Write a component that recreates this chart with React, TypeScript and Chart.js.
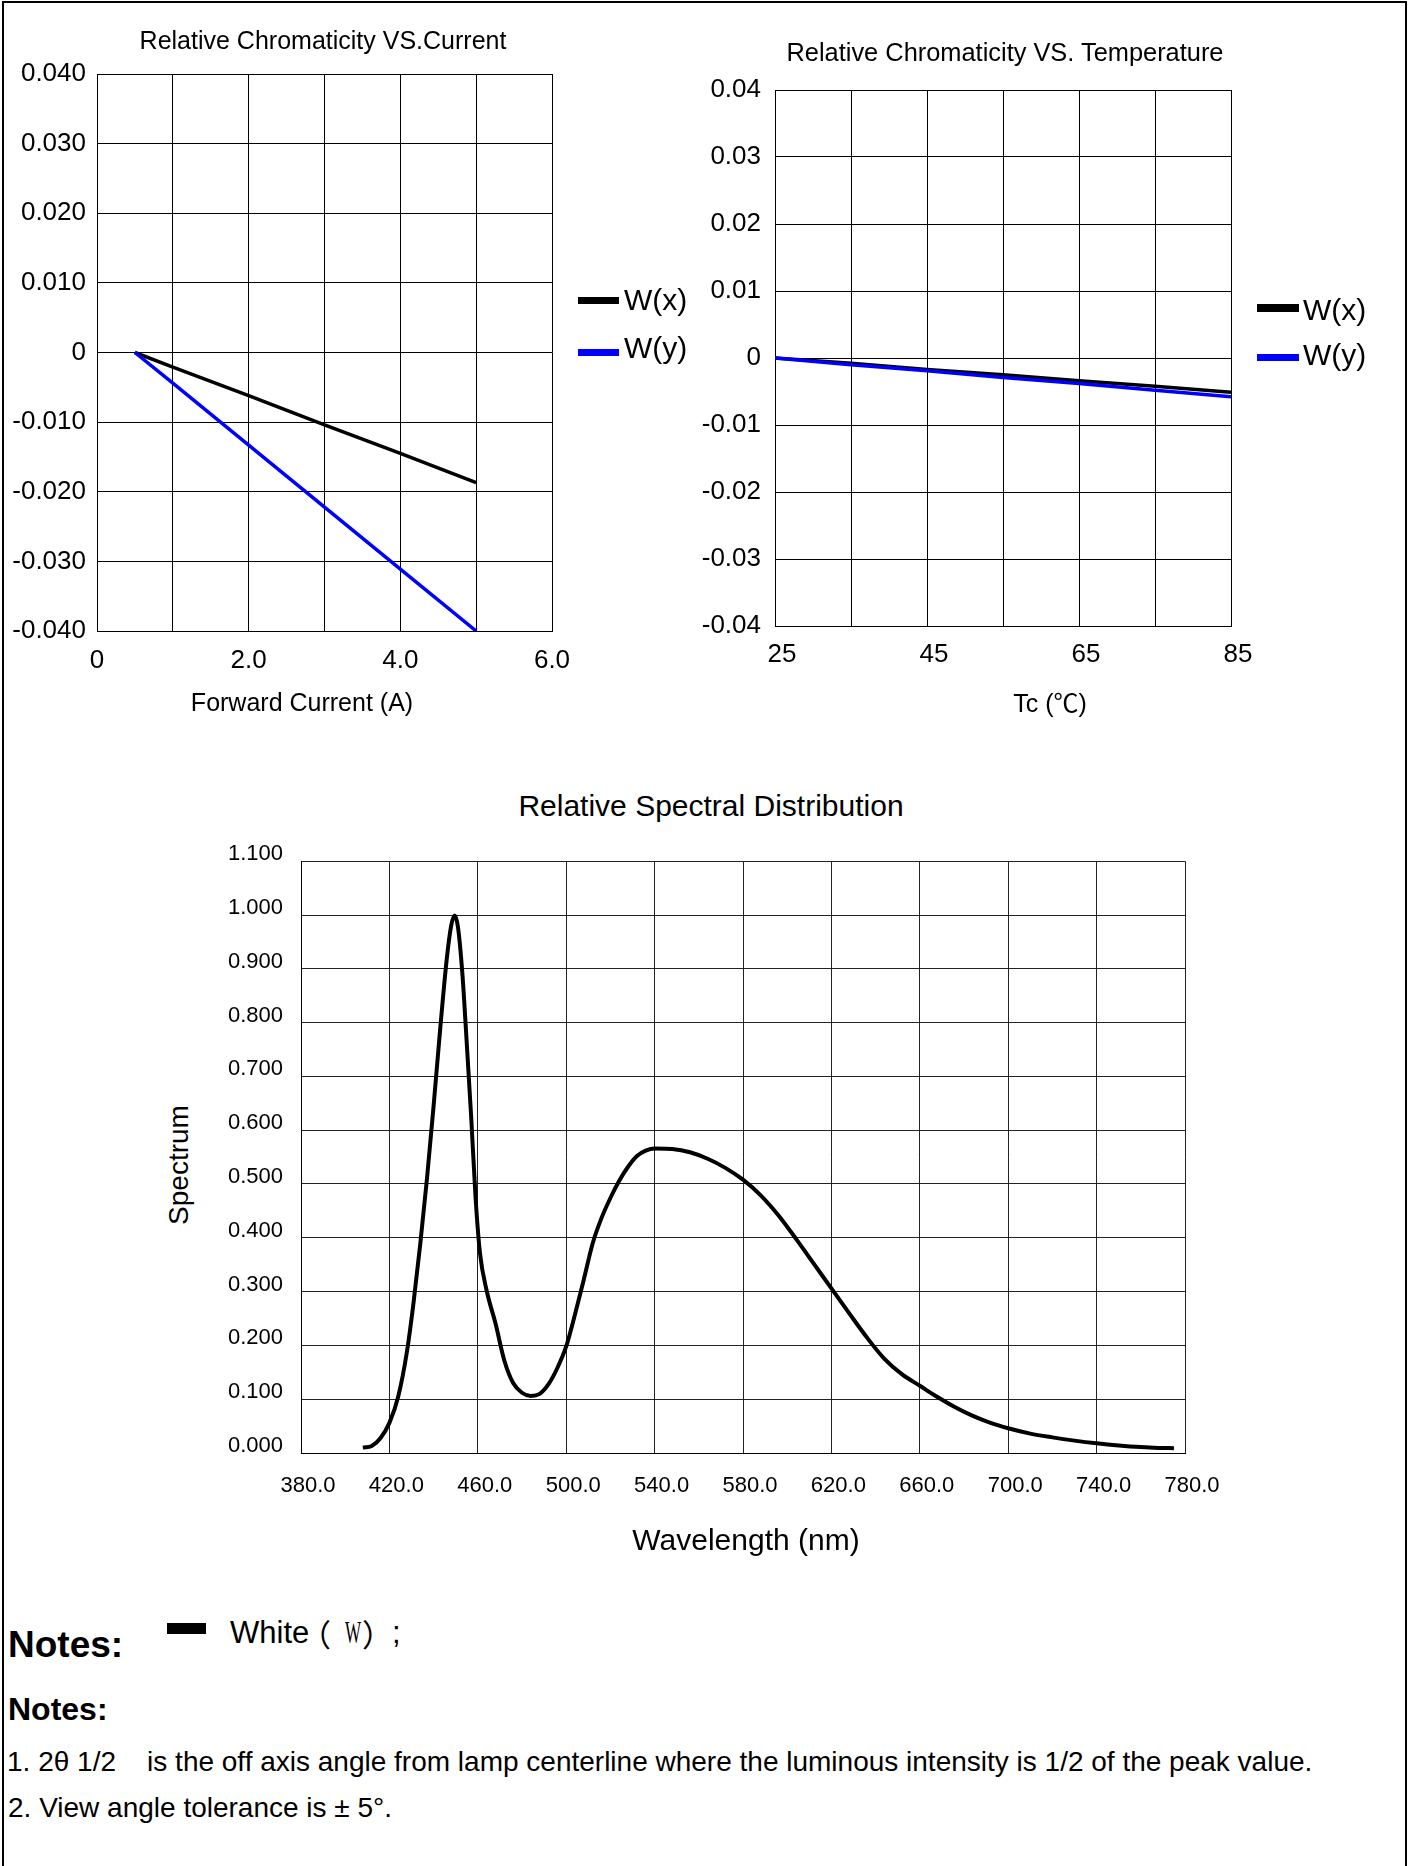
import React, { useEffect, useRef } from 'react';
import { Chart, registerables } from 'chart.js';

Chart.register(...registerables);

const FONT = '"Liberation Sans", Arial, "Noto Sans CJK SC", sans-serif';
const CJK = '"Noto Sans CJK SC", "Liberation Sans", sans-serif';

// ---------- Chart 1: Relative Chromaticity VS. Current ----------
const currentA = [0.5, 1, 2, 3, 4, 5];
const wxVsCurrent = [0, -0.0021, -0.0062, -0.0104, -0.0145, -0.0187];
const wyVsCurrent = [0, -0.0044, -0.0133, -0.0222, -0.0311, -0.04];
const currentXTicks = [0, 1, 2, 3, 4, 5, 6];
const currentXTickLabels = ['0', '', '2.0', '', '4.0', '', '6.0'];
const currentYTicks = [-0.04, -0.03, -0.02, -0.01, 0, 0.01, 0.02, 0.03, 0.04];
const currentYTickLabels = ['-0.040', '-0.030', '-0.020', '-0.010', '0', '0.010', '0.020', '0.030', '0.040'];

// ---------- Chart 2: Relative Chromaticity VS. Temperature ----------
const tempC = [25, 35, 45, 55, 65, 75, 85];
const wxVsTemp = [0, -0.0008, -0.0017, -0.0025, -0.0034, -0.0042, -0.0051];
const wyVsTemp = [0, -0.001, -0.0019, -0.0029, -0.0038, -0.0048, -0.0058];
const tempXTicks = [25, 35, 45, 55, 65, 75, 85];
const tempXTickLabels = ['25', '', '45', '', '65', '', '85'];
const tempYTicks = [-0.04, -0.03, -0.02, -0.01, 0, 0.01, 0.02, 0.03, 0.04];
const tempYTickLabels = ['-0.04', '-0.03', '-0.02', '-0.01', '0', '0.01', '0.02', '0.03', '0.04'];

// ---------- Chart 3: Relative Spectral Distribution ----------
const wavelengthNm = [
  408, 412, 416, 420, 424, 428, 431, 434, 437, 440, 443, 446, 448, 449.5, 451, 453, 455, 457, 459, 461,
  464, 468, 472, 476, 480, 484, 488, 492, 496, 500, 504, 508, 512, 516, 520, 524, 528, 532, 536, 540,
  548, 556, 564, 572, 580, 588, 596, 604, 612, 620, 628, 636, 644, 652, 660, 668, 676, 684, 692, 700,
  710, 720, 730, 740, 750, 760, 768, 775,
];
const spectrumValue = [
  0.010, 0.013, 0.028, 0.056, 0.105, 0.19, 0.282, 0.39, 0.51, 0.645, 0.789, 0.92, 0.981, 0.999, 0.978, 0.892, 0.762, 0.625, 0.474, 0.371,
  0.302, 0.241, 0.172, 0.13, 0.112, 0.106, 0.11, 0.128, 0.158, 0.198, 0.258, 0.323, 0.39, 0.437, 0.474, 0.506, 0.532, 0.552, 0.562, 0.566,
  0.565, 0.559, 0.547, 0.53, 0.508, 0.479, 0.442, 0.398, 0.352, 0.306, 0.26, 0.215, 0.175, 0.146, 0.125, 0.104, 0.085, 0.069, 0.056, 0.046,
  0.036, 0.029, 0.023, 0.018, 0.014, 0.011, 0.0095, 0.009,
];
const specXTicks = [380, 420, 460, 500, 540, 580, 620, 660, 700, 740, 780];
const specXTickLabels = ['380.0', '420.0', '460.0', '500.0', '540.0', '580.0', '620.0', '660.0', '700.0', '740.0', '780.0'];
const specYTicks = [0, 0.1, 0.2, 0.3, 0.4, 0.5, 0.6, 0.7, 0.8, 0.9, 1.0, 1.1];
const specYTickLabels = ['0.000', '0.100', '0.200', '0.300', '0.400', '0.500', '0.600', '0.700', '0.800', '0.900', '1.000', '1.100'];

type AxisSpec = {
  ticks: number[];
  labels: string[];
  fontSize: number;
  padding: number;
  labelOffset: number;
  size: number;
};

function axis(spec: AxisSpec, isX: boolean, gridColor: string) {
  return {
    type: 'linear',
    min: spec.ticks[0],
    max: spec.ticks[spec.ticks.length - 1],
    afterBuildTicks: (s: any) => {
      s.ticks = spec.ticks.map((v) => ({ value: v }));
    },
    afterFit: (s: any) => {
      if (isX) s.height = spec.size;
      else s.width = spec.size;
    },
    grid: { color: gridColor, lineWidth: 1, drawTicks: false },
    border: { display: true, color: '#000', width: 1 },
    ticks: {
      autoSkip: false,
      maxRotation: 0,
      minRotation: 0,
      padding: spec.padding,
      labelOffset: spec.labelOffset,
      color: '#000',
      font: { family: FONT, size: spec.fontSize },
      callback: (_v: any, i: number) => spec.labels[i],
    },
  };
}

function buildConfig(
  datasets: any[],
  xSpec: AxisSpec,
  ySpec: AxisSpec,
  padding: { left: number; top: number; right: number; bottom: number },
  gridColor: string
): any {
  return {
    type: 'line',
    data: { datasets },
    options: {
      animation: false,
      responsive: false,
      maintainAspectRatio: false,
      devicePixelRatio: 1,
      layout: { padding },
      plugins: { legend: { display: false }, tooltip: { enabled: false }, title: { display: false } },
      elements: { point: { radius: 0 } },
      scales: {
        x: axis(xSpec, true, gridColor),
        y: axis(ySpec, false, gridColor),
      },
    },
  };
}

function pts(xs: number[], ys: number[]) {
  return xs.map((x, i) => ({ x, y: ys[i] }));
}

function ChartCanvas(props: { left: number; top: number; width: number; height: number; make: () => any }) {
  const ref = useRef<HTMLCanvasElement | null>(null);
  useEffect(() => {
    if (!ref.current) return;
    const chart = new Chart(ref.current, props.make());
    return () => chart.destroy();
  }, []);
  return (
    <canvas
      ref={ref}
      width={props.width}
      height={props.height}
      style={{ position: 'absolute', left: props.left, top: props.top, width: props.width, height: props.height }}
    />
  );
}

function CText(props: { cx: number; cy: number; size: number; rotate?: boolean; bold?: boolean; children: any }) {
  return (
    <div
      style={{
        position: 'absolute',
        left: props.cx,
        top: props.cy,
        transform: `translate(-50%, -50%)${props.rotate ? ' rotate(-90deg)' : ''}`,
        fontFamily: FONT,
        fontSize: props.size,
        fontWeight: props.bold ? 700 : 400,
        lineHeight: 1,
        whiteSpace: 'nowrap',
        color: '#000',
      }}
    >
      {props.children}
    </div>
  );
}

function LText(props: { left: number; baseline: number; size: number; bold?: boolean; family?: string; children: any }) {
  return (
    <div
      style={{
        position: 'absolute',
        left: props.left,
        top: props.baseline - 0.8465 * props.size,
        fontFamily: props.family || FONT,
        fontSize: props.size,
        fontWeight: props.bold ? 700 : 400,
        lineHeight: 1,
        whiteSpace: 'pre',
        color: '#000',
      }}
    >
      {props.children}
    </div>
  );
}

function Swatch(props: { left: number; top: number; width: number; height: number; color: string }) {
  return (
    <div
      style={{
        position: 'absolute',
        left: props.left,
        top: props.top,
        width: props.width,
        height: props.height,
        background: props.color,
      }}
    />
  );
}

function LegendText(props: { left: number; top: number; children: any }) {
  return (
    <div
      style={{
        position: 'absolute',
        left: props.left,
        top: props.top,
        fontFamily: FONT,
        fontSize: 30,
        lineHeight: 1,
        whiteSpace: 'nowrap',
        color: '#000',
      }}
    >
      {props.children}
    </div>
  );
}

export default function App() {
  const makeCurrent = () =>
    buildConfig(
      [
        { data: pts(currentA, wxVsCurrent), borderColor: '#000000', borderWidth: 3.5, pointRadius: 0, tension: 0, order: 2 },
        { data: pts(currentA, wyVsCurrent), borderColor: '#0000ff', borderWidth: 3.5, pointRadius: 0, tension: 0, order: 1 },
      ],
      { ticks: currentXTicks, labels: currentXTickLabels, fontSize: 26, padding: 14, labelOffset: 0, size: 50 },
      { ticks: currentYTicks, labels: currentYTickLabels, fontSize: 26, padding: 11, labelOffset: 0, size: 97 },
      { left: 0, top: 34, right: 88, bottom: 19 },
      '#000'
    );

  const makeTemp = () =>
    buildConfig(
      [
        { data: pts(tempC, wxVsTemp), borderColor: '#000000', borderWidth: 3.5, pointRadius: 0, tension: 0, order: 2 },
        { data: pts(tempC, wyVsTemp), borderColor: '#0000ff', borderWidth: 3.5, pointRadius: 0, tension: 0, order: 1 },
      ],
      { ticks: tempXTicks, labels: tempXTickLabels, fontSize: 26, padding: 13, labelOffset: 7, size: 50 },
      { ticks: tempYTicks, labels: tempYTickLabels, fontSize: 26, padding: 14, labelOffset: 0, size: 115 },
      { left: 0, top: 50, right: 183, bottom: 24 },
      '#000'
    );

  const makeSpectrum = () =>
    buildConfig(
      [
        {
          data: pts(wavelengthNm, spectrumValue),
          borderColor: '#000000',
          borderWidth: 4,
          pointRadius: 0,
          cubicInterpolationMode: 'monotone',
        },
      ],
      { ticks: specXTicks, labels: specXTickLabels, fontSize: 22, padding: 20, labelOffset: 7, size: 50 },
      { ticks: specYTicks, labels: specYTickLabels, fontSize: 22, padding: 18, labelOffset: -7, size: 101 },
      { left: 0, top: 31, right: 115, bottom: 27 },
      '#222'
    );

  return (
    <div
      style={{
        position: 'absolute',
        left: 0,
        top: 0,
        width: 1414,
        height: 1866,
        background: '#fff',
        overflow: 'hidden',
      }}
    >
      {/* page frame */}
      <div
        style={{
          position: 'absolute',
          left: 2,
          top: 1,
          width: 1405,
          height: 1920,
          boxSizing: 'border-box',
          borderLeft: '2px solid #000',
          borderTop: '2px solid #000',
          borderRight: '2px solid #000',
        }}
      />

      <ChartCanvas left={0} top={40} width={640} height={660} make={makeCurrent} />
      <ChartCanvas left={660} top={40} width={754} height={660} make={makeTemp} />
      <ChartCanvas left={200} top={830} width={1100} height={700} make={makeSpectrum} />

      {/* chart 1 texts */}
      <CText cx={323} cy={40} size={25}>Relative Chromaticity VS.Current</CText>
      <CText cx={302} cy={702} size={25}>Forward Current (A)</CText>
      <Swatch left={578} top={297} width={41} height={7} color="#000" />
      <LegendText left={624} top={285}>W(x)</LegendText>
      <Swatch left={578} top={349} width={41} height={7} color="#0000ff" />
      <LegendText left={624} top={333}>W(y)</LegendText>

      {/* chart 2 texts */}
      <CText cx={1005} cy={53} size={25.4}>Relative Chromaticity VS. Temperature</CText>
      <CText cx={1050} cy={702} size={25}>
        Tc (<span style={{ fontFamily: CJK }}>℃</span>)
      </CText>
      <Swatch left={1257} top={304} width={42} height={8} color="#000" />
      <LegendText left={1303} top={295}>W(x)</LegendText>
      <Swatch left={1257} top={354} width={42} height={7} color="#0000ff" />
      <LegendText left={1303} top={340}>W(y)</LegendText>

      {/* chart 3 texts */}
      <CText cx={711} cy={806} size={30}>Relative Spectral Distribution</CText>
      <CText cx={746} cy={1540} size={30}>Wavelength (nm)</CText>
      <CText cx={179} cy={1165} size={28} rotate>Spectrum</CText>

      {/* notes */}
      <LText left={8} baseline={1657} size={37} bold>Notes:</LText>
      <Swatch left={167} top={1623} width={39} height={11} color="#000" />
      <LText left={230} baseline={1643} size={31}>White</LText>
      <LText left={300} baseline={1643} size={31} family={CJK}>（</LText>
      <LText left={345} baseline={1643} size={31} family={'"Liberation Serif", serif'}>
        <span style={{ display: 'inline-block', transform: 'scaleX(0.55)', transformOrigin: 'left center' }}>W</span>
      </LText>
      <LText left={362} baseline={1643} size={31} family={CJK}>）</LText>
      <LText left={392} baseline={1643} size={31}>;</LText>
      <LText left={8} baseline={1720} size={32} bold>Notes:</LText>
      <LText left={7} baseline={1772} size={28}>
        {'1. 2θ 1/2    is the off axis angle from lamp centerline where the luminous intensity is 1/2 of the peak value.'}
      </LText>
      <LText left={8} baseline={1818} size={28}>
        {'2. View angle tolerance is ± 5°.'}
      </LText>
    </div>
  );
}
